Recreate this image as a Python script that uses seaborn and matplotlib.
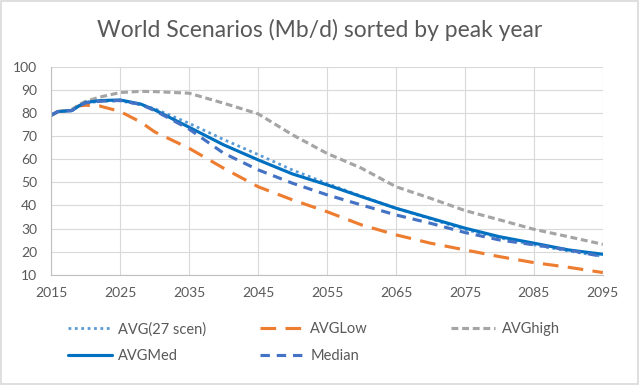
import matplotlib
matplotlib.use("Agg")
import matplotlib.pyplot as plt
import seaborn as sns
import pandas as pd

# 数据
years = [2015, 2016, 2017, 2018, 2019, 2020, 2022, 2025, 2028, 2030, 2035, 2040, 2045,
         2050, 2055, 2060, 2065, 2070, 2075, 2080, 2085, 2090, 2095]
avg27 = [79.0, 80.6, 80.8, 81.0, 83.0, 84.2, 85.0, 85.2, 83.5, 81.8, 75.5, 68.5, 62.0,
         55.3, 49.5, 44.0, 38.8, 34.2, 29.6, 26.0, 23.0, 20.3, 18.0]
avg_low = [79.0, 80.6, 80.8, 81.5, 83.0, 83.3, 83.0, 80.6, 76.0, 71.8, 64.7, 56.1, 48.1,
           42.4, 37.3, 31.6, 27.3, 23.7, 20.8, 17.9, 15.3, 13.3, 11.0]
avg_high = [79.0, 80.6, 80.8, 81.5, 83.5, 85.0, 86.8, 88.8, 89.3, 89.2, 88.5, 84.2, 79.6,
            70.5, 62.5, 56.1, 48.1, 43.1, 37.8, 33.8, 29.7, 26.5, 23.2]
avg_med = [79.0, 80.6, 80.8, 81.0, 83.0, 84.5, 85.3, 85.6, 83.8, 81.3, 73.8, 66.2, 59.7,
           53.6, 48.9, 43.8, 38.8, 34.5, 30.2, 26.5, 23.7, 20.8, 18.9]
median = [79.0, 80.6, 80.8, 81.0, 83.0, 84.3, 85.0, 85.4, 83.6, 81.0, 73.0, 62.6, 55.4,
          49.6, 44.6, 40.2, 35.9, 32.3, 28.3, 25.1, 23.0, 20.8, 17.9]

series = {
    "AVG(27 scen)": avg27,
    "AVGLow": avg_low,
    "AVGhigh": avg_high,
    "AVGMed": avg_med,
    "Median": median,
}
styles = {
    "AVG(27 scen)": dict(color="#5B9BD5", dashes=(1, 1.3), lw=2.0),
    "AVGLow": dict(color="#ED7D31", dashes=(5, 3), lw=2.25),
    "AVGhigh": dict(color="#A5A5A5", dashes=(2.2, 1.2), lw=2.25),
    "AVGMed": dict(color="#0070C0", dashes=None, lw=2.25),
    "Median": dict(color="#4472C4", dashes=(3, 2.2), lw=2.25),
}

sns.set_theme(style="whitegrid")
plt.rcParams['font.family'] = ['Lato', 'DejaVu Sans']

fig = plt.figure(figsize=(6.4, 3.85), dpi=100)
ax = fig.add_axes([0.080, 0.286, 0.862, 0.541])

handles = {}
for name, vals in series.items():
    st = styles[name]
    sns.lineplot(x=years, y=vals, ax=ax, color=st["color"], lw=st["lw"], label=name)
    line = ax.get_lines()[-1]
    if st["dashes"] is not None:
        line.set_dashes(st["dashes"])
    handles[name] = line

ax.set_xlim(2015, 2095)
ax.set_ylim(10, 100)
ax.set_xticks(range(2015, 2096, 10))
ax.set_yticks(range(10, 101, 10))
ax.grid(True, color="#D9D9D9", lw=0.8)
for side in ["top", "right"]:
    ax.spines[side].set_visible(False)
for side in ["left", "bottom"]:
    ax.spines[side].set_color("#BFBFBF")
    ax.spines[side].set_linewidth(0.8)
ax.tick_params(axis="both", colors="#595959", labelsize=10, length=0)
ax.tick_params(axis="x", pad=9)
ax.tick_params(axis="y", pad=10)
ax.set_xlabel("")
ax.set_ylabel("")
ax.legend_.remove()

fig.suptitle("World Scenarios (Mb/d) sorted by peak year", y=0.95,
             fontsize=16.5, color="#595959")

# 图例：三列，每列一个 legend，列宽固定
columns = [["AVG(27 scen)", "AVGMed"], ["AVGLow", "Median"], ["AVGhigh"]]
col_x = [0.106, 0.406, 0.705]
for names, x in zip(columns, col_x):
    fig.legend([handles[n] for n in names], names, loc="upper left",
               bbox_to_anchor=(x, 0.163), frameon=False, fontsize=10.5,
               handlelength=3.0, labelspacing=0.85, handletextpad=0.45,
               borderpad=0, borderaxespad=0, labelcolor="#595959")

# 图表外框
fig.patches.append(plt.Rectangle((0.002, 0.003), 0.995, 0.994, transform=fig.transFigure,
                                 fill=False, edgecolor="#D9D9D9", lw=1.2))

fig.savefig("out.png", dpi=100)
